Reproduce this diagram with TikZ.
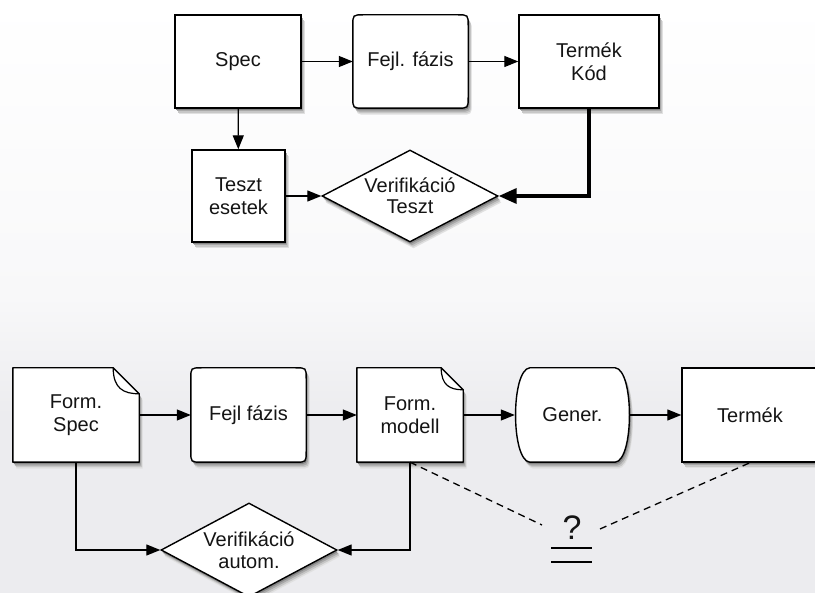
\documentclass[tikz,border=0pt]{standalone}
\usepackage{fontspec}
\setmainfont{Liberation Sans}
\usetikzlibrary{arrows.meta,shapes.geometric,shadows,calc}

\definecolor{bgbot}{RGB}{236,236,239}
\definecolor{bgmid}{RGB}{248,248,249}
\definecolor{ink}{RGB}{20,20,20}

% page backdrop: white at the top, fading to a pale grey lower down
\pgfdeclareverticalshading{bgfade}{100bp}{color(0bp)=(bgbot); color(40bp)=(bgbot); color(50bp)=(bgmid); color(75bp)=(white); color(100bp)=(white)}

% document box with a folded top-right corner (#1 = node, #2 = fold size)
\newcommand\docshape[2]{%
  \path[fill=white, draw, line width=1.4pt, line join=round, shad]
    (#1.north west) -- ($(#1.north east)+(-#2,0)$) -- ($(#1.north east)+(0,#2)$)
    -- (#1.south east) -- (#1.south west) -- cycle;
  \draw[line width=1.2pt]
    ($(#1.north east)+(-#2,0)$) .. controls ($(#1.north east)+(-#2,0.8*#2)$)
    and ($(#1.north east)+(-0.6*#2,#2)$) .. ($(#1.north east)+(0,#2)$);}

% rounded process box behind a node, corners built from curves (#1 = node)
\newcommand\roundshape[1]{%
  \path[fill=white, draw, line width=1.4pt, shad]
    ($(#1.north west)+(11,0)$) -- ($(#1.north east)+(-11,0)$)
    .. controls (#1.north east) .. ($(#1.north east)+(0,11)$)
    -- ($(#1.south east)+(0,-11)$)
    .. controls (#1.south east) .. ($(#1.south east)+(-11,0)$)
    -- ($(#1.south west)+(11,0)$)
    .. controls (#1.south west) .. ($(#1.south west)+(0,-11)$)
    -- ($(#1.north west)+(0,11)$)
    .. controls (#1.north west) .. cycle;}

\begin{document}
\begin{tikzpicture}[x=1pt,y=-1pt,
  every node/.style={font=\fontsize{20}{23}\selectfont, text=ink},
  % layered solid shadow, farthest layer first
  shad/.style={
    general shadow={fill=black!12, shadow xshift=3.5pt, shadow yshift=-6.5pt},
    general shadow={fill=black!22, shadow xshift=3pt,   shadow yshift=-5pt},
    general shadow={fill=black!34, shadow xshift=2pt,   shadow yshift=-3.5pt},
    general shadow={fill=black!48, shadow xshift=1pt,   shadow yshift=-2pt}},
  box/.style={rectangle, draw, line width=1.4pt, fill=white, shad,
      align=center, inner sep=0pt},
  dia/.style={diamond, draw, line width=1.4pt, fill=white, shad, inner sep=0pt},
  lbl/.style={align=center, inner sep=0pt},
  flow/.style={line width=1.3pt, -{Triangle[length=14pt,width=11pt]}},
  heavy/.style={line width=3.5pt, -{Triangle[length=18pt,width=15pt]}},
  guess/.style={line width=1.3pt, dash pattern=on 7pt off 5pt}]

  \useasboundingbox (0,0) rectangle (815,593);
  \shade[shading=bgfade] (0,0) rectangle (815,593);
  \clip (0,0) rectangle (815,593);

  % ---------- conventional development ----------
  \node[box, minimum width=126pt, minimum height=93pt] (spec) at (238,61.5) {Spec};
  \node[lbl, minimum width=115pt, minimum height=93pt] (fejl) at (410.5,61.5) {};
  \roundshape{fejl}
  \node[lbl] (fejltxt) at (fejl.center) {Fejl. fázis};
  \node[box, minimum width=140pt, minimum height=93pt] (kod) at (589,61.5) {Termék\\Kód};
  \node[box, minimum width=93pt, minimum height=92pt] (teszt) at (238.5,196) {Teszt\\esetek};
  \node[dia, minimum width=176pt, minimum height=92pt] (v1) at (410,196) {};
  \node[lbl, font=\fontsize{20}{21}\selectfont] (v1txt) at (v1.center) {Verifikáció\\Teszt};

  \draw[flow] (spec) -- (fejl);
  \draw[flow] (fejl) -- (kod);
  \draw[flow] (spec) -- (teszt);
  \draw[flow] (teszt) -- (v1);
  \draw[heavy] (kod.south) |- (v1.east);

  % ---------- model based development ----------
  \node[lbl, minimum width=126pt, minimum height=94pt] (fspec) at (76,415) {};
  \docshape{fspec}{26}
  \node[lbl] (fspectxt) at (fspec.center) {Form.\\Spec};
  \node[lbl, minimum width=115pt, minimum height=94pt] (fejl2) at (248.5,415) {};
  \roundshape{fejl2}
  \node[lbl] (fejl2txt) at (fejl2.center) {Fejl fázis};
  \node[lbl, minimum width=106pt, minimum height=94pt] (fmodell) at (410,415) {};
  \docshape{fmodell}{22}
  \node[lbl] (fmodelltxt) at (fmodell.center) {Form.\\modell};
  \node[lbl, minimum width=115pt, minimum height=94pt] (gener) at (572.5,415) {};
  \path[fill=white, draw, line width=1.4pt, shad]
    ($(gener.north west)+(15,0)$) -- ($(gener.north east)+(-15,0)$)
    .. controls ($(gener.north east)+(4,2)$) and ($(gener.south east)+(4,-2)$)
    .. ($(gener.south east)+(-15,0)$) -- ($(gener.south west)+(15,0)$)
    .. controls ($(gener.south west)+(-4,-2)$) and ($(gener.north west)+(-4,2)$)
    .. cycle;
  \node[lbl] (genertxt) at (gener.center) {Gener.};
  \node[box, minimum width=136pt, minimum height=94pt] (termek) at (750,415) {Termék};
  \node[dia, minimum width=176pt, minimum height=94pt] (v2) at (249,550) {};
  \node[lbl, font=\fontsize{20}{22}\selectfont] (v2txt) at (v2.center) {Verifikáció\\autom.};

  \draw[flow] (fspec) -- (fejl2);
  \draw[flow] (fejl2) -- (fmodell);
  \draw[flow] (fmodell) -- (gener);
  \draw[flow] (gener) -- (termek);
  \draw[flow] (fspec.south) |- (v2.west);
  \draw[flow] (fmodell.south) |- (v2.east);

  % open question: is the product equivalent to the model?
  \node[lbl, font=\fontsize{34}{34}\selectfont] (q) at (572,528) {?};
  \draw[line width=1.8pt] ([shift={(-21,20)}]q.center) -- ([shift={(20,20)}]q.center);
  \draw[line width=1.8pt] ([shift={(-21,34)}]q.center) -- ([shift={(20,34)}]q.center);
  \coordinate (qin) at ([shift={(-30,-3)}]q.center);
  \coordinate (qout) at ([shift={(28,1)}]q.center);
  \draw[guess] (fmodell.south) -- (qin);
  \draw[guess] (qout) -- (termek.south);
\end{tikzpicture}
\end{document}
